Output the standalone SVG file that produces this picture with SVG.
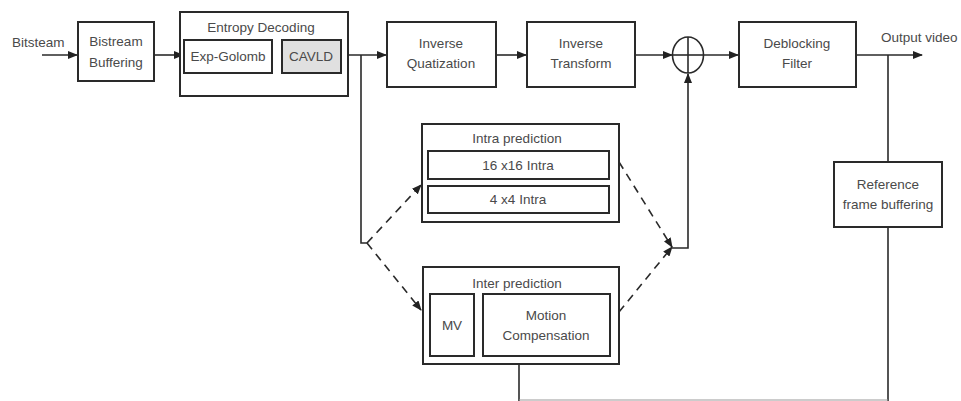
<svg xmlns="http://www.w3.org/2000/svg" width="961" height="401" viewBox="0 0 961 401">
<defs>
<marker id="ah" markerWidth="10" markerHeight="8" refX="9" refY="4" orient="auto" markerUnits="userSpaceOnUse">
<path d="M0,0 L10,4 L0,8 Z" fill="#222"/>
</marker>
<style>
.box{fill:#fff;stroke:#2a2a2a;stroke-width:2}
.gray{fill:#e0e0e0;stroke:#2a2a2a;stroke-width:2}
.ln{fill:none;stroke:#2a2a2a;stroke-width:1.6}
.dash{fill:none;stroke:#2a2a2a;stroke-width:1.6;stroke-dasharray:8,6}
.faint{fill:none;stroke:#999;stroke-width:1.2}
text{font-family:"Liberation Sans",Arial,sans-serif;font-size:13.5px;fill:#4a4a4a;text-anchor:middle}
.l{text-anchor:start}
</style>
</defs>
<rect width="961" height="401" fill="#fff"/>
<g id="connectors">
<line class="ln" x1="42" y1="55" x2="77" y2="55" marker-end="url(#ah)"/>
<line class="ln" x1="154" y1="55" x2="183" y2="55" marker-end="url(#ah)"/>
<line class="ln" x1="341" y1="55" x2="386" y2="55" marker-end="url(#ah)"/>
<line class="ln" x1="496" y1="55" x2="526" y2="55" marker-end="url(#ah)"/>
<line class="ln" x1="635" y1="55" x2="672" y2="55" marker-end="url(#ah)"/>
<line class="ln" x1="703" y1="55" x2="738" y2="55" marker-end="url(#ah)"/>
<line class="ln" x1="856" y1="55" x2="922" y2="55" marker-end="url(#ah)"/>
<polyline class="ln" points="361,55 361,243 367,243"/>
<line class="dash" x1="367" y1="243" x2="421" y2="185" marker-end="url(#ah)"/>
<line class="dash" x1="367" y1="243" x2="421" y2="310" marker-end="url(#ah)"/>
<line class="dash" x1="619" y1="162" x2="672" y2="247" marker-end="url(#ah)"/>
<line class="dash" x1="619" y1="312" x2="672" y2="247" marker-end="url(#ah)"/>
<polyline class="ln" points="672,248 688,248 688,74" marker-end="url(#ah)"/>
<line class="ln" x1="888" y1="55" x2="888" y2="162"/>
<line class="ln" x1="888" y1="227" x2="888" y2="401"/>
<line class="ln" x1="519" y1="364" x2="519" y2="401"/>
<line class="faint" x1="519" y1="400" x2="888" y2="400"/>
</g>
<g id="bitstream-label"><text class="l" x="12" y="47">Bitsteam</text></g>
<g id="bistream-buffering">
<rect class="box" x="78" y="22" width="76" height="59"/>
<text x="116" y="46">Bistream</text>
<text x="116" y="67">Buffering</text>
</g>
<g id="entropy-decoding">
<rect class="box" x="180" y="12" width="168" height="84"/>
<text x="261" y="32">Entropy Decoding</text>
<g id="exp-golomb"><rect class="box" x="184" y="40" width="88" height="33"/><text x="228" y="61">Exp-Golomb</text></g>
<g id="cavld"><rect class="gray" x="282" y="40" width="59" height="33"/><text x="311" y="61">CAVLD</text></g>
</g>
<g id="inverse-quantization">
<rect class="box" x="387" y="22" width="109" height="65"/>
<text x="441" y="48">Inverse</text>
<text x="441" y="68">Quatization</text>
</g>
<g id="inverse-transform">
<rect class="box" x="527" y="22" width="108" height="65"/>
<text x="581" y="48">Inverse</text>
<text x="581" y="68">Transform</text>
</g>
<g id="adder">
<ellipse cx="688" cy="55" rx="15.5" ry="18" fill="none" stroke="#2a2a2a" stroke-width="1.6"/>
<line class="ln" x1="672" y1="55" x2="704" y2="55"/>
<line class="ln" x1="688" y1="37" x2="688" y2="73"/>
</g>
<g id="deblocking-filter">
<rect class="box" x="739" y="22" width="117" height="65"/>
<text x="797" y="48">Deblocking</text>
<text x="797" y="68">Filter</text>
</g>
<g id="output-label"><text class="l" x="881" y="42">Output video</text></g>
<g id="intra-prediction">
<rect class="box" x="422" y="124" width="197" height="98"/>
<text x="517" y="143">Intra prediction</text>
<g id="intra16"><rect class="box" x="428" y="151" width="181" height="28"/><text x="518" y="170">16 x16 Intra</text></g>
<g id="intra4"><rect class="box" x="428" y="186" width="181" height="27"/><text x="518" y="204">4 x4 Intra</text></g>
</g>
<g id="inter-prediction">
<rect class="box" x="423" y="267" width="196" height="97"/>
<text x="517" y="288">Inter prediction</text>
<g id="mv"><rect class="box" x="430" y="294" width="44" height="62"/><text x="452" y="330">MV</text></g>
<g id="motion-compensation"><rect class="box" x="483" y="294" width="127" height="62"/><text x="546" y="320">Motion</text><text x="546" y="340">Compensation</text></g>
</g>
<g id="reference-frame-buffering">
<rect class="box" x="834" y="162" width="108" height="65"/>
<text x="888" y="189">Reference</text>
<text x="888" y="209">frame buffering</text>
</g>
</svg>
